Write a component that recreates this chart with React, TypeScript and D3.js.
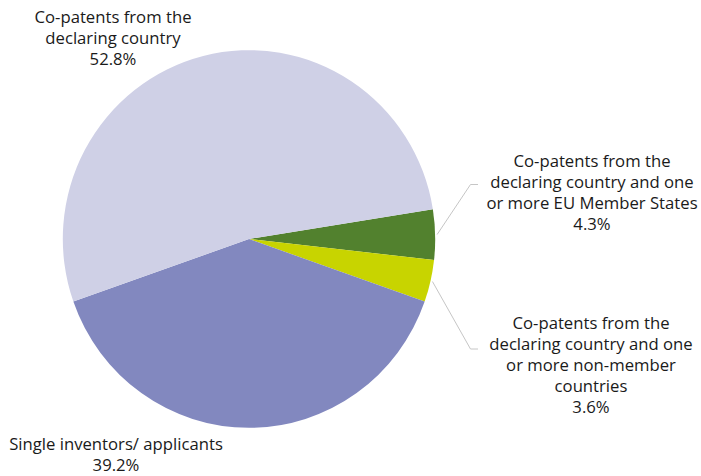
import React from "react";
import * as d3 from "d3";

const categories = [
  "Co-patents from the declaring country and one or more EU Member States",
  "Co-patents from the declaring country and one or more non-member countries",
  "Single inventors/ applicants",
  "Co-patents from the declaring country",
];
const values = [4.3, 3.6, 39.2, 52.8];
const colors = ["#52812e", "#c8d400", "#8288bf", "#cfd0e6"];
const labelLines = [
  ["Co-patents from the", "declaring country and one", "or more EU Member States", "4.3%"],
  ["Co-patents from the", "declaring country and one", "or more non-member", "countries", "3.6%"],
  ["Single inventors/ applicants", "39.2%"],
  ["Co-patents from the", "declaring country", "52.8%"],
];

const W = 701;
const H = 476;
const cx = 249;
const cy = 239;
const rx = 186.2;
const ry = 188.8;
const startDeg = 80.9;

const labelPos = [
  { x: 592, y: 166.5 },
  { x: 591, y: 328.5 },
  { x: 116, y: 450 },
  { x: 113, y: 23 },
];
const lineH = 21;

export default function App() {
  const pie = d3
    .pie<number>()
    .sort(null)
    .startAngle((startDeg * Math.PI) / 180)
    .endAngle((startDeg * Math.PI) / 180 + 2 * Math.PI);
  const arcs = pie(values);
  const arc = d3.arc<d3.PieArcDatum<number>>().innerRadius(0).outerRadius(rx);
  const sy = ry / rx;

  const leaders = arcs.slice(0, 2).map((a, i) => {
    const mid = (a.startAngle + a.endAngle) / 2;
    const r0 = rx + 2;
    const sx = cx + Math.sin(mid) * r0;
    const syy = cy - Math.cos(mid) * r0 * sy;
    const ey = i === 0 ? 184.5 : 349;
    const ex = 470.5;
    return { sx, sy: syy, ex, ey, hx: ex + 7.5 };
  });

  return (
    <svg width={W} height={H} style={{ position: "absolute", left: 0, top: 0 }}>
      <rect width={W} height={H} fill="#ffffff" />
      <g transform={`translate(${cx},${cy}) scale(1,${sy})`}>
        {arcs.map((a, i) => (
          <path key={categories[i]} d={arc(a) || ""} fill={colors[i]} />
        ))}
      </g>
      {leaders.map((l, i) => (
        <polyline
          key={i}
          points={`${l.sx},${l.sy} ${l.ex},${l.ey} ${l.hx},${l.ey}`}
          fill="none"
          stroke="#c6c6c6"
          strokeWidth={1}
        />
      ))}
      {labelLines.map((lines, i) => (
        <text
          key={i}
          x={labelPos[i].x}
          y={labelPos[i].y}
          textAnchor="middle"
          fontFamily="'Open Sans', sans-serif"
          fontSize={16.7}
          fill="#1a1a1a"
        >
          {lines.map((t, j) => (
            <tspan key={j} x={labelPos[i].x} y={labelPos[i].y + j * lineH}>
              {t}
            </tspan>
          ))}
        </text>
      ))}
    </svg>
  );
}
